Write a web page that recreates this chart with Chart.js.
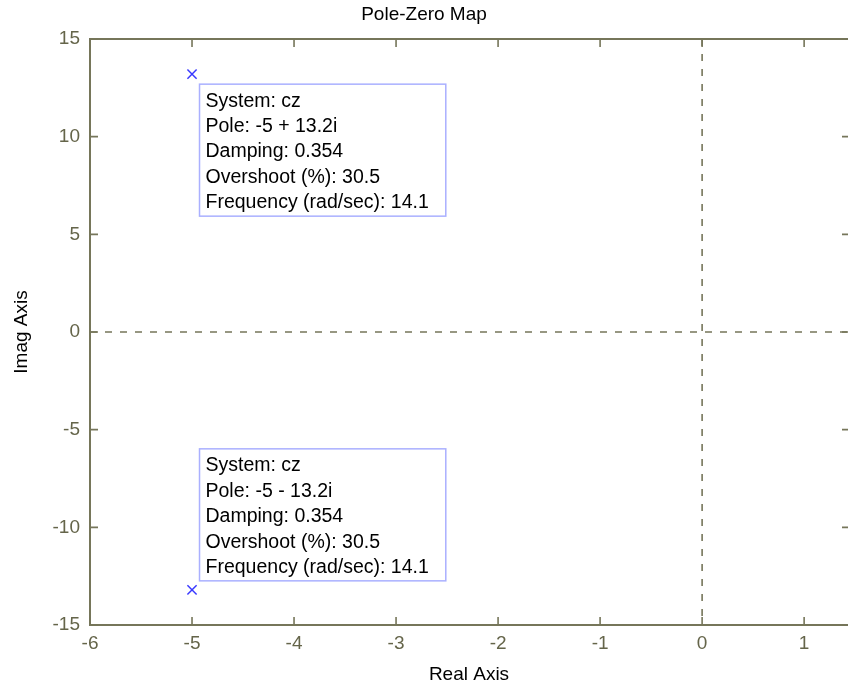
<!DOCTYPE html>
<html>
<head>
<meta charset="utf-8">
<script src="https://cdn.jsdelivr.net/npm/chart.js@4.4.1/dist/chart.umd.min.js"></script>
<style>
  html, body { margin: 0; background: #fff; overflow: hidden; }
  #wrap { width: 848px; height: 688px; }
</style>
</head>
<body>
<div id="wrap"><canvas id="pzChart"></canvas></div>
<script>
// poles of system cz
const poleReal = [-5, -5];
const poleImag = [13.2, -13.2];
const poleLabel = ["-5 + 13.2i", "-5 - 13.2i"];
const damping = [0.354, 0.354];
const overshoot = [30.5, 30.5];
const frequency = [14.1, 14.1];
const systemName = "cz";

const xRange = [-6, 1.43];
const yRange = [-15, 15];

const axisColor = "#76765a";
const tickColor = "#65654a";
const FONT = "'Liberation Sans', Arial, sans-serif";

// MATLAB style box: frame, inward ticks, dashed zero lines, data tips
const matlabAxes = {
  id: "matlabAxes",
  beforeDatasetsDraw(chart) {
    const { ctx, chartArea: a, scales: { x, y } } = chart;
    ctx.save();
    ctx.strokeStyle = axisColor;
    ctx.lineWidth = 1.6;
    ctx.setLineDash([7, 8]);
    const x0 = x.getPixelForValue(0);
    const y0 = y.getPixelForValue(0);
    ctx.beginPath();
    ctx.moveTo(x0, a.top); ctx.lineTo(x0, a.bottom);
    ctx.moveTo(a.left, y0); ctx.lineTo(a.right, y0);
    ctx.stroke();
    ctx.setLineDash([]);

    // right side of the box falls just outside the picture
    ctx.lineWidth = 2;
    ctx.beginPath();
    ctx.moveTo(a.right, a.top); ctx.lineTo(a.left, a.top);
    ctx.lineTo(a.left, a.bottom); ctx.lineTo(a.right, a.bottom);
    ctx.stroke();

    ctx.lineWidth = 1.6;
    ctx.beginPath();
    x.ticks.forEach(t => {
      const px = x.getPixelForValue(t.value);
      ctx.moveTo(px, a.bottom); ctx.lineTo(px, a.bottom - 8);
      ctx.moveTo(px, a.top); ctx.lineTo(px, a.top + 8);
    });
    y.ticks.forEach(t => {
      const py = y.getPixelForValue(t.value);
      ctx.moveTo(a.left, py); ctx.lineTo(a.left + 8, py);
      ctx.moveTo(a.right + 2, py); ctx.lineTo(a.right - 6, py);
    });
    ctx.stroke();
    ctx.restore();
  },
  afterDatasetsDraw(chart) {
    const { ctx, scales: { x, y } } = chart;
    ctx.save();
    ctx.font = "19.5px " + FONT;
    ctx.textBaseline = "alphabetic";
    ctx.textAlign = "left";
    poleReal.forEach((re, i) => {
      const lines = [
        "System: " + systemName,
        "Pole: " + poleLabel[i],
        "Damping: " + damping[i],
        "Overshoot (%): " + overshoot[i],
        "Frequency (rad/sec): " + frequency[i]
      ];
      const px = x.getPixelForValue(re);
      const py = y.getPixelForValue(poleImag[i]);
      const w = Math.max(...lines.map(s => ctx.measureText(s).width)) + 23;
      const h = 132;
      const left = px + 7.5;
      const top = poleImag[i] > 0 ? py + 10 : py - 9 - h;
      ctx.fillStyle = "#fff";
      ctx.fillRect(left, top, w, h);
      ctx.strokeStyle = "#aab0ff";
      ctx.lineWidth = 1.5;
      ctx.strokeRect(left, top, w, h);
      ctx.fillStyle = "#000";
      lines.forEach((s, k) => ctx.fillText(s, left + 6, top + 22.5 + k * 25.4));
    });
    ctx.restore();
  }
};

new Chart(document.getElementById("pzChart"), {
  type: "scatter",
  data: {
    datasets: [{
      label: "Poles",
      data: poleReal.map((re, i) => ({ x: re, y: poleImag[i] })),
      pointStyle: "crossRot",
      pointRadius: 6.5,
      pointHoverRadius: 6.5,
      borderColor: "#3a3aff",
      backgroundColor: "#3a3aff",
      borderWidth: 1.5
    }]
  },
  options: {
    responsive: true,
    maintainAspectRatio: false,
    animation: false,
    layout: { padding: 0, autoPadding: false },
    plugins: {
      legend: { display: false },
      tooltip: { enabled: false },
      title: {
        display: true,
        text: "Pole-Zero Map",
        color: "#000",
        font: { family: FONT, size: 19, weight: "normal" },
        padding: { top: 3, bottom: 13.2 }
      }
    },
    scales: {
      x: {
        type: "linear",
        min: xRange[0],
        max: xRange[1],
        grid: { display: false, drawTicks: false },
        border: { display: false },
        ticks: {
          stepSize: 1,
          includeBounds: false,
          color: tickColor,
          font: { family: FONT, size: 19 },
          padding: 7,
          maxRotation: 0
        },
        afterFit: s => { s.height = 63; s.paddingLeft = 0; s.paddingRight = 0; },
        title: {
          display: true,
          text: "Real Axis",
          color: "#000",
          font: { family: FONT, size: 19 },
          padding: { top: 0, bottom: 2 }
        }
      },
      y: {
        type: "linear",
        min: yRange[0],
        max: yRange[1],
        grid: { display: false, drawTicks: false },
        border: { display: false },
        ticks: {
          stepSize: 5,
          color: tickColor,
          font: { family: FONT, size: 19 },
          padding: 10
        },
        afterFit: s => { s.width = 90; },
        title: {
          display: true,
          text: "Imag Axis",
          color: "#000",
          font: { family: FONT, size: 19 },
          padding: { top: 10, bottom: 0 }
        }
      }
    }
  },
  plugins: [matlabAxes]
});
</script>
</body>
</html>
